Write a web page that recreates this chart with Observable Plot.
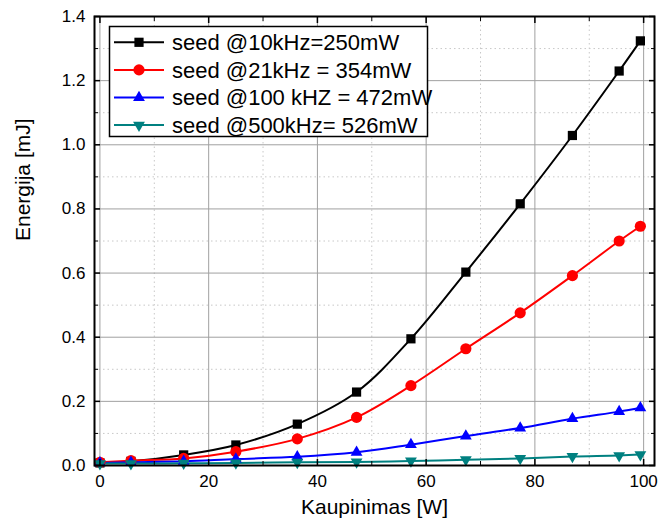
<!DOCTYPE html>
<html><head><meta charset="utf-8">
<script src="https://cdn.jsdelivr.net/npm/d3@7"></script>
<script src="https://cdn.jsdelivr.net/npm/@observablehq/plot@0.6"></script>
<style>body{margin:0;background:#fff} #chart{position:relative;width:659px;height:529px}</style>
</head><body><div id="chart"></div>
<script>
// Data
const power = [0, 5.7, 15.4, 25, 36.3, 47.2, 57.2, 67.3, 77.3, 86.9, 95.5, 99.4];
const seed10 = [0.008, 0.013, 0.033, 0.064, 0.129, 0.229, 0.395, 0.603, 0.816, 1.029, 1.230, 1.324];
const seed21 = [0.010, 0.015, 0.022, 0.043, 0.083, 0.150, 0.249, 0.364, 0.476, 0.592, 0.700, 0.746];
const seed100 = [0.008, 0.010, 0.013, 0.020, 0.027, 0.041, 0.065, 0.092, 0.117, 0.146, 0.168, 0.180];
const seed500 = [0.006, 0.006, 0.007, 0.008, 0.010, 0.011, 0.014, 0.018, 0.022, 0.028, 0.031, 0.034];
const seriesNames = ["seed @10kHz=250mW", "seed @21kHz = 354mW", "seed @100 kHZ = 472mW", "seed @500kHz= 526mW"];
const xMajor = [0, 20, 40, 60, 80, 100];
const xMinor = [10, 30, 50, 70, 90];
const yMajor = [0, 0.2, 0.4, 0.6, 0.8, 1.0, 1.2, 1.4];
const yMinor = [0.1, 0.3, 0.5, 0.7, 0.9, 1.1, 1.3];

const seriesValues = [seed10, seed21, seed100, seed500];
const colors = ["#000000", "#ff0000", "#0000ff", "#008080"];
const symbols = ["square", "circle", "triangle", "triangle"];
const d3symbols = [d3.symbolSquare, d3.symbolCircle, d3.symbolTriangle, d3.symbolTriangle];
const radii = [5.2, 5.6, 4.4, 4.4];
const rotations = [0, 0, 0, 180];

const seriesData = seriesValues.map(vals => power.map((p, j) => ({x: p, y: vals[j]})));

const lineMarks = seriesData.map((d, i) =>
  Plot.line(d, {x: "x", y: "y", stroke: colors[i], strokeWidth: 2, curve: "catmull-rom"}));
const dotMarks = seriesData.map((d, i) =>
  Plot.dot(d, {x: "x", y: "y", fill: colors[i], stroke: "none", symbol: symbols[i], r: radii[i], rotate: rotations[i]}));

const chart = Plot.plot({
  width: 659, height: 529,
  marginLeft: 94, marginRight: 5, marginTop: 16, marginBottom: 64,
  style: {fontFamily: "'Liberation Sans', Arial, sans-serif", fontSize: "17px", color: "#000", background: "#fff"},
  x: {domain: [-1, 102], label: null},
  y: {domain: [0, 1.4], label: null},
  marks: [
    Plot.gridX(xMinor, {stroke: "#c8c8c8", strokeOpacity: 1, strokeDasharray: "1.5,3"}),
    Plot.gridY(yMinor, {stroke: "#c8c8c8", strokeOpacity: 1, strokeDasharray: "1.5,3"}),
    Plot.gridX(xMajor, {stroke: "#a0a0a0", strokeOpacity: 1}),
    Plot.gridY(yMajor, {stroke: "#a0a0a0", strokeOpacity: 1}),
    ...lineMarks,
    ...dotMarks,
    Plot.axisX(xMajor, {anchor: "bottom", tickSize: -6, tickPadding: 15, label: null, strokeWidth: 1.5}),
    Plot.axisX(xMinor, {anchor: "bottom", tickSize: -4, tickFormat: () => "", label: null}),
    Plot.axisX(xMajor, {anchor: "top", tickSize: -6, tickFormat: () => "", label: null, strokeWidth: 1.5}),
    Plot.axisX(xMinor, {anchor: "top", tickSize: -4, tickFormat: () => "", label: null}),
    Plot.axisY(yMajor, {anchor: "left", tickSize: -6, tickPadding: 15, tickFormat: d3.format(".1f"), label: null, strokeWidth: 1.5}),
    Plot.axisY(yMinor, {anchor: "left", tickSize: -4, tickFormat: () => "", label: null}),
    Plot.axisY(yMajor, {anchor: "right", tickSize: -6, tickFormat: () => "", label: null, strokeWidth: 1.5}),
    Plot.axisY(yMinor, {anchor: "right", tickSize: -4, tickFormat: () => "", label: null}),
    Plot.frame({stroke: "#000", strokeWidth: 2}),
    Plot.text(["Kaupinimas [W]"], {frameAnchor: "bottom", dy: 48, text: d => d, fontSize: 21}),
    Plot.text(["Energija [mJ]"], {frameAnchor: "left", dx: -71, rotate: -90, text: d => d, fontSize: 21})
  ]
});
document.getElementById("chart").appendChild(chart);

// Legend (layout overlay)
const svg = d3.select(chart);
const lg = svg.append("g").attr("font-family", "'Liberation Sans', Arial, sans-serif")
  .attr("font-size", 22).attr("text-anchor", "start");
lg.append("rect").attr("x", 109.5).attr("y", 26.5).attr("width", 318).attr("height", 110)
  .attr("fill", "#fff").attr("stroke", "#000").attr("stroke-width", 1.5);
seriesNames.forEach((name, i) => {
  const cy = 42.3 + i * 27.6;
  lg.append("line").attr("x1", 114).attr("x2", 164).attr("y1", cy).attr("y2", cy)
    .attr("stroke", colors[i]).attr("stroke-width", 2);
  lg.append("path").attr("d", d3.symbol(d3symbols[i], Math.PI * radii[i] * radii[i])())
    .attr("transform", `translate(139,${cy}) rotate(${rotations[i]})`).attr("fill", colors[i]);
  lg.append("text").attr("x", 172).attr("y", cy).attr("dy", "0.35em").attr("fill", "#000")
    .attr("text-anchor", "start").text(name);
});
</script>
</body></html>
